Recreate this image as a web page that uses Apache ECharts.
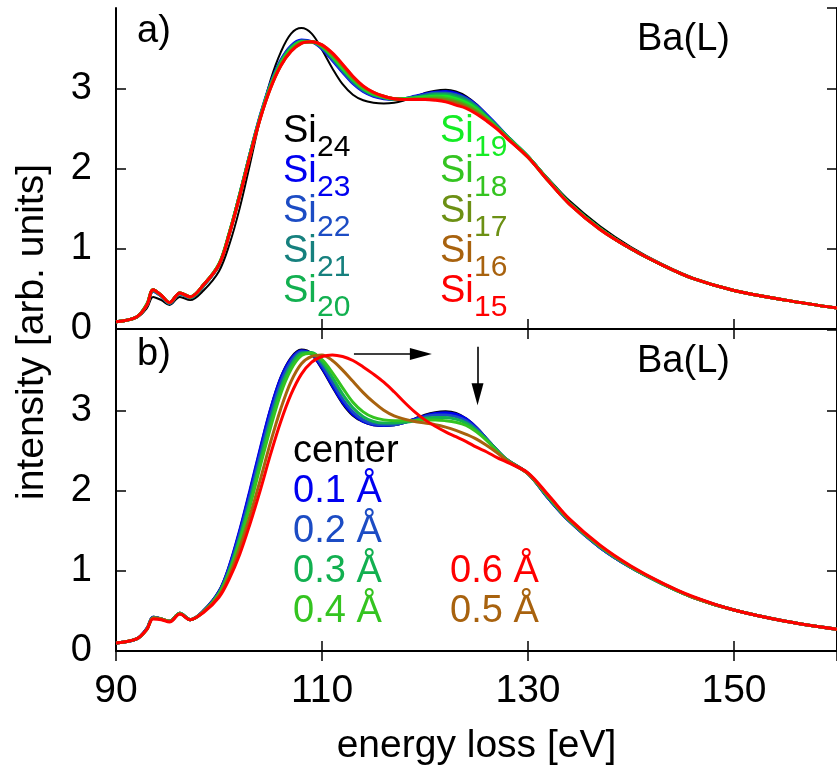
<!DOCTYPE html>
<html>
<head>
<meta charset="utf-8">
<script src="https://cdn.jsdelivr.net/npm/echarts@6/dist/echarts.min.js"></script>
<style>
  html, body { margin: 0; padding: 0; background: #ffffff; }
  #chart { width: 837px; height: 774px; }
</style>
</head>
<body>
<div id="chart"></div>
<script>
// Energy-loss grid shared by every spectrum [eV]
const energy = [90, 92, 93, 93.6, 94.4, 95.2, 96.2, 97.2, 98.5, 100, 101, 102, 103, 104, 105, 106, 107, 108, 109, 110, 111, 112, 113, 114, 115, 116, 117, 118, 119, 120, 121, 122, 123, 124, 125, 126, 127, 128, 130, 132, 134, 137, 140, 143, 146, 150, 155, 160];

// Panel a) Ba(L) edge for the Si_n cages
const si24 = [0.09,0.14,0.26,0.40,0.36,0.30,0.40,0.36,0.48, 0.72,1.05,1.50,2.05, 2.62,3.10,3.45,3.68,3.75,3.68,3.48,3.25,3.05,2.92,2.85,2.82,2.81,2.82,2.85,2.89,2.94,2.97,2.98,2.96,2.90,2.80,2.67,2.53,2.39, 2.15,1.87,1.60,1.28,1.02,0.81,0.64,0.48,0.36,0.26];
const si23 = [0.09,0.15,0.30,0.47,0.41,0.32,0.44,0.39,0.54, 0.80,1.19,1.67,2.18, 2.66,3.06,3.35,3.53,3.60,3.58,3.49,3.35,3.20,3.06,2.96,2.90,2.87,2.86,2.87,2.90,2.93,2.95,2.96,2.94,2.88,2.79,2.67,2.54,2.40, 2.15,1.85,1.57,1.25,1.00,0.80,0.63,0.48,0.36,0.26];
const si22 = [0.09,0.15,0.30,0.47,0.41,0.32,0.44,0.39,0.54, 0.80,1.19,1.67,2.18, 2.65,3.05,3.34,3.52,3.59,3.58,3.50,3.36,3.21,3.07,2.97,2.91,2.88,2.86,2.87,2.89,2.92,2.94,2.94,2.92,2.87,2.78,2.66,2.53,2.40, 2.15,1.85,1.57,1.25,1.00,0.80,0.63,0.48,0.36,0.26];
const si21 = [0.09,0.15,0.30,0.48,0.41,0.32,0.44,0.39,0.54, 0.80,1.19,1.67,2.18, 2.65,3.04,3.33,3.51,3.59,3.58,3.51,3.38,3.23,3.09,2.98,2.92,2.88,2.86,2.87,2.89,2.91,2.93,2.93,2.91,2.86,2.77,2.65,2.53,2.40, 2.15,1.85,1.57,1.25,1.00,0.80,0.63,0.48,0.36,0.26];
const si20 = [0.09,0.15,0.31,0.49,0.42,0.33,0.45,0.40,0.55, 0.81,1.20,1.67,2.17, 2.64,3.03,3.32,3.50,3.58,3.58,3.52,3.39,3.24,3.10,2.99,2.92,2.89,2.87,2.87,2.88,2.90,2.92,2.92,2.89,2.84,2.76,2.64,2.52,2.39, 2.15,1.85,1.57,1.25,1.00,0.80,0.63,0.48,0.36,0.26];
const si19 = [0.09,0.15,0.31,0.49,0.42,0.33,0.45,0.40,0.55, 0.81,1.20,1.67,2.17, 2.64,3.03,3.31,3.49,3.58,3.58,3.52,3.40,3.25,3.11,3.00,2.93,2.89,2.87,2.87,2.88,2.89,2.90,2.90,2.87,2.82,2.74,2.63,2.51,2.39, 2.15,1.85,1.57,1.25,1.00,0.80,0.63,0.48,0.36,0.26];
const si18 = [0.09,0.15,0.31,0.49,0.42,0.33,0.45,0.40,0.55, 0.81,1.19,1.66,2.16, 2.63,3.02,3.30,3.48,3.57,3.58,3.53,3.41,3.27,3.12,3.01,2.94,2.89,2.87,2.86,2.87,2.88,2.89,2.88,2.85,2.80,2.73,2.62,2.51,2.38, 2.14,1.85,1.57,1.25,1.00,0.80,0.63,0.48,0.36,0.26];
const si17 = [0.09,0.15,0.30,0.49,0.42,0.33,0.45,0.40,0.55, 0.80,1.19,1.66,2.16, 2.63,3.01,3.29,3.47,3.57,3.58,3.53,3.42,3.28,3.13,3.02,2.94,2.90,2.87,2.86,2.87,2.87,2.87,2.86,2.83,2.78,2.71,2.61,2.50,2.38, 2.14,1.84,1.56,1.24,1.00,0.80,0.63,0.48,0.36,0.26];
const si16 = [0.09,0.15,0.30,0.49,0.42,0.33,0.45,0.40,0.55, 0.80,1.18,1.65,2.15, 2.62,3.00,3.28,3.46,3.56,3.58,3.54,3.43,3.29,3.14,3.02,2.95,2.90,2.87,2.86,2.86,2.86,2.86,2.84,2.81,2.76,2.69,2.60,2.50,2.38, 2.14,1.84,1.56,1.24,1.00,0.80,0.63,0.48,0.36,0.26];
const si15 = [0.09,0.15,0.30,0.49,0.42,0.33,0.45,0.40,0.55, 0.80,1.18,1.65,2.15, 2.62,3.00,3.28,3.46,3.56,3.58,3.54,3.44,3.30,3.15,3.03,2.95,2.90,2.87,2.86,2.86,2.86,2.85,2.83,2.79,2.75,2.68,2.59,2.49,2.37, 2.14,1.84,1.56,1.24,1.00,0.80,0.63,0.48,0.36,0.26];

// Panel b) Ba(L) edge for off-center displacements of the Ba atom
const dCenter = [0.10,0.15,0.28,0.42,0.40,0.37,0.47,0.39,0.50, 0.74,1.05,1.48,1.98, 2.50,3.00,3.40,3.65,3.75,3.70,3.52,3.30,3.09,2.94,2.86,2.82,2.81,2.82,2.85,2.89,2.94,2.97,2.98,2.96,2.89,2.78,2.64,2.50,2.38, 2.21,1.90,1.62,1.29,1.04,0.84,0.67,0.51,0.37,0.27];
const d01 = [0.10,0.15,0.28,0.42,0.40,0.37,0.47,0.39,0.50, 0.74,1.06,1.50,2.00, 2.52,3.01,3.40,3.64,3.74,3.70,3.53,3.31,3.10,2.95,2.86,2.82,2.81,2.82,2.85,2.89,2.93,2.96,2.97,2.95,2.89,2.78,2.64,2.50,2.37, 2.21,1.90,1.62,1.29,1.04,0.84,0.67,0.51,0.37,0.27];
const d02 = [0.10,0.15,0.28,0.42,0.40,0.37,0.47,0.39,0.50, 0.73,1.03,1.45,1.93, 2.45,2.94,3.35,3.61,3.73,3.71,3.56,3.35,3.14,2.98,2.88,2.83,2.82,2.82,2.85,2.88,2.92,2.94,2.94,2.92,2.87,2.77,2.64,2.50,2.38, 2.21,1.91,1.62,1.29,1.04,0.84,0.67,0.51,0.37,0.27];
const d03 = [0.10,0.15,0.27,0.41,0.40,0.37,0.47,0.39,0.49, 0.72,1.00,1.40,1.86, 2.37,2.86,3.28,3.56,3.71,3.72,3.60,3.41,3.20,3.03,2.92,2.86,2.84,2.84,2.85,2.87,2.90,2.91,2.91,2.89,2.84,2.75,2.63,2.50,2.38, 2.21,1.91,1.63,1.30,1.04,0.84,0.67,0.51,0.37,0.27];
const d04 = [0.10,0.15,0.27,0.41,0.40,0.37,0.47,0.39,0.49, 0.71,0.98,1.36,1.80, 2.30,2.78,3.21,3.51,3.68,3.71,3.63,3.47,3.28,3.10,2.98,2.91,2.88,2.87,2.87,2.87,2.88,2.88,2.87,2.85,2.81,2.73,2.62,2.49,2.37, 2.21,1.92,1.63,1.30,1.05,0.84,0.67,0.51,0.37,0.27];
const d05 = [0.10,0.15,0.27,0.41,0.40,0.37,0.46,0.39,0.49, 0.69,0.94,1.28,1.68, 2.13,2.60,3.02,3.36,3.58,3.67,3.69,3.62,3.50,3.36,3.22,3.10,3.00,2.93,2.89,2.86,2.84,2.82,2.79,2.75,2.70,2.64,2.56,2.47,2.37, 2.21,1.93,1.64,1.31,1.05,0.85,0.67,0.51,0.37,0.27];
const d06 = [0.10,0.15,0.27,0.40,0.39,0.36,0.46,0.39,0.48, 0.67,0.90,1.20,1.58, 2.00,2.45,2.86,3.20,3.45,3.60,3.67,3.69,3.67,3.62,3.54,3.45,3.35,3.23,3.10,2.98,2.88,2.80,2.73,2.67,2.61,2.54,2.48,2.41,2.35, 2.22,1.94,1.65,1.32,1.06,0.85,0.68,0.51,0.37,0.27];

// Axis ticks
const energyTicks = { min: 90, max: 160, step: 20 };
const intensityTicks = { min: 0, max: 4, step: 1 };

const FONT = '"Liberation Sans", Arial, Helvetica, sans-serif';

const panelA = [
  { name: 'Si', sub: '24', color: '#000000', values: si24, width: 2 },
  { name: 'Si', sub: '23', color: '#0000f0', values: si23, width: 3 },
  { name: 'Si', sub: '22', color: '#1c4cc4', values: si22, width: 3 },
  { name: 'Si', sub: '21', color: '#16807e', values: si21, width: 3 },
  { name: 'Si', sub: '20', color: '#12b050', values: si20, width: 3 },
  { name: 'Si', sub: '19', color: '#14ec24', values: si19, width: 3 },
  { name: 'Si', sub: '18', color: '#34c420', values: si18, width: 3 },
  { name: 'Si', sub: '17', color: '#6c9014', values: si17, width: 3 },
  { name: 'Si', sub: '16', color: '#a8620e', values: si16, width: 3 },
  { name: 'Si', sub: '15', color: '#ff0000', values: si15, width: 3 }
];
const panelB = [
  { name: 'center', color: '#000000', values: dCenter, width: 3 },
  { name: '0.1 Å', color: '#0000f0', values: d01, width: 3 },
  { name: '0.2 Å', color: '#1c4cc4', values: d02, width: 3 },
  { name: '0.3 Å', color: '#12b050', values: d03, width: 3 },
  { name: '0.4 Å', color: '#34c420', values: d04, width: 3 },
  { name: '0.5 Å', color: '#a8620e', values: d05, width: 3 },
  { name: '0.6 Å', color: '#ff0000', values: d06, width: 3 }
];

const chart = echarts.init(document.getElementById('chart'), null, { renderer: 'canvas' });

const PLOT_LEFT = 116, PLOT_WIDTH = 724, PANEL_H = 321;
const grids = [
  { left: PLOT_LEFT, top: 8, width: PLOT_WIDTH, height: PANEL_H },
  { left: PLOT_LEFT, top: 8 + PANEL_H + 1, width: PLOT_WIDTH, height: PANEL_H }
];

const frameLine = { show: true, lineStyle: { color: '#000', width: 2 } };
const innerTick = { show: true, inside: true, length: 10, lineStyle: { color: '#000', width: 1.5 } };

function xAxisFor(gridIndex, position, withLabels) {
  const ax = {
    gridIndex, type: 'value', position,
    min: energyTicks.min, max: energyTicks.max, interval: energyTicks.step,
    axisLine: frameLine, axisTick: innerTick, splitLine: { show: false },
    axisLabel: { show: withLabels, fontSize: 39, fontFamily: FONT, color: '#000', margin: 21, showMaxLabel: false }
  };
  if (withLabels) {
    ax.name = 'energy loss [eV]';
    ax.nameLocation = 'middle';
    ax.nameGap = 76;
    ax.nameTextStyle = { fontSize: 39, fontFamily: FONT, color: '#000' };
  }
  return ax;
}
function yAxisFor(gridIndex, position, withLabels) {
  return {
    gridIndex, type: 'value', position,
    min: intensityTicks.min, max: intensityTicks.max, interval: intensityTicks.step,
    axisLine: frameLine, axisTick: innerTick, splitLine: { show: false },
    axisLabel: { show: withLabels, fontSize: 38, fontFamily: FONT, color: '#000', margin: 24, showMaxLabel: false }
  };
}

const xAxes = [xAxisFor(0, 'bottom', false), xAxisFor(0, 'top', false), xAxisFor(1, 'bottom', true), xAxisFor(1, 'top', false)];
const yAxes = [yAxisFor(0, 'left', true), yAxisFor(0, 'right', false), yAxisFor(1, 'left', true), yAxisFor(1, 'right', false)];

function lineSeries(entry, panel) {
  return {
    type: 'line',
    xAxisIndex: panel * 2, yAxisIndex: panel * 2,
    data: energy.map((e, i) => [e, entry.values[i]]),
    smooth: 0.35, showSymbol: false, symbol: 'none',
    lineStyle: { color: entry.color, width: entry.width },
    silent: true, z: 2
  };
}

const series = [];
panelA.forEach(s => series.push(lineSeries(s, 0)));
panelB.forEach(s => series.push(lineSeries(s, 1)));

// Arrows in panel b: peak shift to higher energy and drop of the second peak
series[series.length - 1].markLine = {
  silent: true, animation: false,
  symbol: ['none', 'triangle'], symbolSize: [12, 22],
  label: { show: false },
  lineStyle: { color: '#000', width: 1.6, type: 'solid' },
  emphasis: { disabled: true },
  data: [
    [{ coord: [113.1, 3.70] }, { coord: [119.6, 3.70] }],
    [{ coord: [125.1, 3.79] }, { coord: [125.1, 3.20] }]
  ]
};

// Annotation texts
const graphics = [];
function addText(text, x, y, size, color, align) {
  graphics.push({
    type: 'text', x, y, silent: true, z: 10,
    style: { text, fill: color, font: `${size}px ${FONT}`, align: align || 'left', verticalAlign: 'middle' }
  });
}
addText('a)', 137, 32, 38, '#000');
addText('b)', 137, 355, 38, '#000');
addText('Ba(L)', 637, 40, 38, '#000');
addText('Ba(L)', 637, 362, 38, '#000');

panelA.forEach((s, i) => {
  const col = i < 5 ? 0 : 1;
  const row = i % 5;
  const x = col === 0 ? 283 : 440;
  const y = 132 + row * 40;
  addText(s.name, x, y, 38, s.color);
  addText(s.sub, x + 34, y + 16, 30, s.color);
});

const panelBSlots = [[293, 452], [293, 492], [293, 532], [293, 572], [293, 612], [450, 612], [450, 572]];
panelB.forEach((s, i) => {
  addText(s.name, panelBSlots[i][0], panelBSlots[i][1], 38, s.color);
});

graphics.push({
  type: 'text', x: 32, y: 332, rotation: Math.PI / 2, silent: true,
  style: { text: 'intensity [arb. units]', fill: '#000', font: `39px ${FONT}`, align: 'center', verticalAlign: 'middle' }
});

chart.setOption({
  animation: false,
  backgroundColor: '#ffffff',
  grid: grids,
  xAxis: xAxes,
  yAxis: yAxes,
  series,
  graphic: graphics
});
</script>
</body>
</html>
